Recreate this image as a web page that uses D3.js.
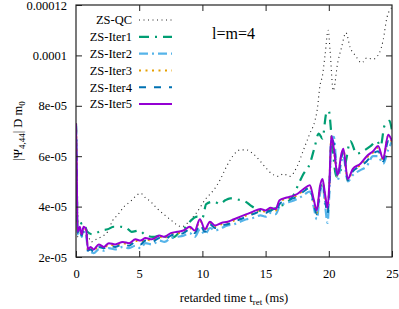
<!DOCTYPE html>
<html><head><meta charset="utf-8">
<script src="https://cdn.jsdelivr.net/npm/d3@7"></script>
<style>body{margin:0;background:#fff}svg{display:block}text{font-family:"Liberation Serif","Times New Roman",serif;fill:#000}</style>
</head><body><svg id="c" width="399" height="309"></svg>
<script>
// values in units of 1e-5
const seriesNames = ["ZS-QC","ZS-Iter1","ZS-Iter2","ZS-Iter3","ZS-Iter4","ZS-Iter5"];
const xTicks = [0,5,10,15,20,25];
const yTicks = [2e-5,4e-5,6e-5,8e-5,1e-4,1.2e-4];
const yTickLabels = ["2e-05","4e-05","6e-05","8e-05","0.0001","0.00012"];

const tQC = [0,0.05,0.15,0.5,0.9,1.2,1.6,2.0,2.5,2.9,3.3,3.8,4.3,4.7,5.1,5.5,5.9,6.4,7.0,7.5,8.0,8.4,8.8,9.5,10.3,10.9,11.4,11.9,12.4,13.0,13.5,14.0,14.5,15.0,15.5,16.0,16.4,16.9,17.5,18.0,18.5,18.9,19.1,19.3,19.5,19.7,19.95,20.1,20.35,20.7,21.0,21.35,21.7,22.1,22.6,23.0,23.5,24.0,24.3,24.6,25.0];
const vQC = [7.3,5.0,2.8,3.0,2.9,2.6,2.7,2.8,3.0,3.45,3.67,4.0,4.2,4.4,4.53,4.35,4.2,3.93,3.67,3.47,3.27,3.2,3.34,3.73,4.33,4.66,5.06,5.58,6.0,6.25,6.25,6.1,5.85,5.55,5.3,5.2,5.3,5.2,5.6,6.25,6.9,7.4,7.9,8.8,9.2,10.0,11.0,10.2,8.6,9.7,10.3,10.9,10.3,10.0,9.7,9.9,9.85,10.1,10.6,11.5,11.9];

const tIter1 = [0,0.05,0.12,0.3,0.6,0.9,1.3,1.6,2.0,2.5,3.0,3.5,4.0,4.4,5.0,5.5,6.1,6.8,7.3,7.8,8.2,8.7,9.1,9.6,10.0,10.3,10.9,11.4,11.8,12.2,12.8,13.4,13.8,14.3,14.8,15.4,16.0,16.7,17.2,17.7,18.0,18.5,18.9,19.2,19.5,19.8,20.0,20.2,20.6,21.0,21.3,21.7,22.2,22.7,23.3,23.8,24.1,24.4,24.8,25.0];
const vIter1 = [7.3,5.5,3.1,3.3,3.35,3.0,2.9,2.95,3.05,3.1,3.2,3.2,3.15,3.0,3.05,2.87,2.8,2.87,2.74,2.8,3.0,3.2,3.45,3.6,3.55,4.1,4.2,4.1,4.25,4.33,4.28,4.2,4.05,3.9,3.8,3.85,4.0,4.15,4.45,5.0,5.3,5.7,6.4,6.9,6.7,7.7,7.8,6.9,5.2,5.5,5.7,6.6,6.1,6.2,6.4,6.6,6.4,7.2,7.4,7.0];

const tIter = [0,0.05,0.12,0.3,0.45,0.6,0.8,0.95,1.15,1.4,1.8,2.2,2.6,3.1,3.7,4.2,4.7,5.1,5.5,6.0,6.6,7.0,7.5,8.0,8.5,9.0,9.4,9.8,10.2,10.6,11.0,11.5,12.0,12.5,13.0,13.5,14.0,14.6,15.0,15.4,15.8,16.1,16.6,17.0,17.5,18.0,18.5,18.8,19.05,19.3,19.5,19.7,19.9,20.05,20.2,20.4,20.7,21.0,21.15,21.5,21.9,22.5,23.0,23.5,23.9,24.3,24.7,25.0];
const vIter2 = [7.2,5.8,2.9,3.1,2.8,3.0,2.9,2.2,2.2,2.15,2.3,2.25,2.35,2.3,2.4,2.35,2.45,2.35,2.55,2.5,2.65,2.6,2.75,2.8,2.85,2.95,2.8,3.1,2.9,3.15,3.05,3.15,3.25,3.3,3.4,3.5,3.55,3.65,3.6,3.75,3.7,4.0,4.15,4.2,4.3,4.45,4.6,4.0,3.5,4.5,4.9,4.1,3.35,4.6,6.6,6.77,5.05,5.8,6.0,5.0,5.25,5.45,5.6,6.0,6.0,5.7,6.25,6.6];
const vIter3 = [7.3,6.0,3.0,3.15,2.85,3.15,3.05,2.25,2.35,2.25,2.45,2.35,2.5,2.45,2.55,2.5,2.65,2.6,2.7,2.65,2.8,2.75,2.9,2.95,3.0,3.15,3.0,3.45,3.05,3.35,3.2,3.3,3.35,3.45,3.55,3.65,3.75,3.85,3.8,3.9,3.85,4.2,4.3,4.35,4.45,4.65,4.8,4.2,3.75,4.75,5.05,4.4,3.85,4.95,6.75,6.25,5.2,6.05,6.25,5.05,5.45,5.65,5.95,6.15,6.35,5.85,6.8,6.55];
const vIter4 = [7.25,5.9,2.95,3.15,2.85,3.1,3.0,2.25,2.3,2.2,2.4,2.35,2.45,2.4,2.5,2.45,2.6,2.5,2.65,2.6,2.75,2.7,2.85,2.9,2.95,3.1,2.95,3.3,3.0,3.3,3.15,3.25,3.3,3.4,3.5,3.6,3.7,3.8,3.75,3.85,3.8,4.1,4.25,4.3,4.4,4.6,4.75,4.15,3.7,4.65,5.0,4.3,3.7,4.8,6.7,6.5,5.15,5.95,6.2,5.05,5.4,5.6,5.8,6.1,6.2,5.8,6.6,6.6];
const vIter5 = [7.3,6.0,3.0,3.2,2.9,3.2,3.1,2.3,2.4,2.3,2.5,2.4,2.55,2.5,2.6,2.55,2.7,2.65,2.75,2.7,2.85,2.8,2.95,3.0,3.05,3.2,3.05,3.5,3.1,3.4,3.25,3.35,3.4,3.5,3.6,3.7,3.8,3.9,3.85,3.95,3.9,4.25,4.35,4.4,4.5,4.7,4.85,4.3,3.85,4.8,5.1,4.5,3.95,5.0,6.8,6.3,5.25,6.1,6.3,5.1,5.5,5.7,6.0,6.2,6.4,5.9,6.85,6.6];

const svg = d3.select("#c");
const x = d3.scaleLinear().domain([0,25]).range([76,392]);
const y = d3.scaleLinear().domain([2e-5,1.2e-4]).range([257,5]);

const series = [
  {name:seriesNames[0], t:tQC, v:vQC, color:"#222", w:1.1, dash:"1,3.5"},
  {name:seriesNames[1], t:tIter1, v:vIter1, color:"#009e73", w:2.2, dash:"10,6,2,6"},
  {name:seriesNames[2], t:tIter, v:vIter2, color:"#56b4e9", w:2.2, dash:"9,4,2,4"},
  {name:seriesNames[3], t:tIter, v:vIter3, color:"#e69f00", w:2, dash:"2,4.5"},
  {name:seriesNames[4], t:tIter, v:vIter4, color:"#0072b2", w:2, dash:"7,8"},
  {name:seriesNames[5], t:tIter, v:vIter5, color:"#9400d3", w:2, dash:null}
];

svg.append("defs").append("clipPath").attr("id","clip")
  .append("rect").attr("x",76).attr("y",5).attr("width",316).attr("height",252);

const line = d3.line().x(d=>x(d[0])).y(d=>y(d[1]*1e-5)).curve(d3.curveMonotoneX);
const g = svg.append("g").attr("clip-path","url(#clip)");
series.forEach(s=>{
  const pts = s.t.map((t,i)=>[t,s.v[i]]);
  g.append("path").attr("d",line(pts)).attr("fill","none")
    .attr("stroke",s.color).attr("stroke-width",s.w)
    .attr("stroke-dasharray",s.dash).attr("stroke-linejoin","round");
});

// axes (inward ticks, mirrored)
const fmt = d => yTickLabels[yTicks.indexOf(d)];
svg.append("g").attr("transform","translate(0,257)")
  .call(d3.axisBottom(x).tickValues(xTicks).tickSizeInner(-6).tickSizeOuter(0).tickPadding(12))
  .call(a=>{a.select(".domain").remove();a.selectAll("text").attr("font-size","12.5px").attr("font-family","Liberation Serif");});
svg.append("g").attr("transform","translate(0,5)")
  .call(d3.axisTop(x).tickValues(xTicks.slice(1,5)).tickSizeInner(-6).tickSizeOuter(0).tickFormat(""))
  .call(a=>a.select(".domain").remove());
svg.append("g").attr("transform","translate(76,0)")
  .call(d3.axisLeft(y).tickValues(yTicks).tickFormat(fmt).tickSizeInner(-6).tickSizeOuter(0).tickPadding(9))
  .call(a=>{a.select(".domain").remove();a.selectAll("text").attr("font-size","12.5px").attr("font-family","Liberation Serif");});
svg.append("g").attr("transform","translate(392,0)")
  .call(d3.axisRight(y).tickValues(yTicks.slice(1,5)).tickFormat("").tickSizeInner(-6).tickSizeOuter(0))
  .call(a=>a.select(".domain").remove());
svg.selectAll(".tick line").attr("stroke","#222");
svg.append("rect").attr("x",76).attr("y",5).attr("width",316).attr("height",252)
  .attr("fill","none").attr("stroke","#222").attr("stroke-width",1.2);

// legend
const lg = svg.append("g");
series.forEach((s,i)=>{
  const yy = 20 + i*16.8;
  lg.append("text").attr("x",132).attr("y",yy).attr("dy","0.35em").attr("text-anchor","end")
    .attr("font-size","12.5px").text(s.name);
  lg.append("line").attr("x1",139).attr("x2",172).attr("y1",yy).attr("y2",yy)
    .attr("stroke",s.color).attr("stroke-width",s.w).attr("stroke-dasharray",s.dash);
});

svg.append("text").attr("x",212).attr("y",39).attr("font-size","16px")
  .attr("font-family","Liberation Sans").text("l=m=4");

// axis labels
const yl = svg.append("text").attr("transform","translate(22,131) rotate(-90)")
  .attr("text-anchor","middle").attr("font-size","12.5px");
yl.append("tspan").text("|\u03A8");
yl.append("tspan").attr("font-size","9px").attr("dy",3).text("4,44");
yl.append("tspan").attr("dy",-3).text("| D m");
yl.append("tspan").attr("font-size","9px").attr("dy",3).text("0");

const xl = svg.append("text").attr("x",234).attr("y",302).attr("text-anchor","middle").attr("font-size","12.5px");
xl.append("tspan").text("retarded time t");
xl.append("tspan").attr("font-size","9px").attr("dy",3).text("ret");
xl.append("tspan").attr("dy",-3).text(" (ms)");
</script></body></html>
